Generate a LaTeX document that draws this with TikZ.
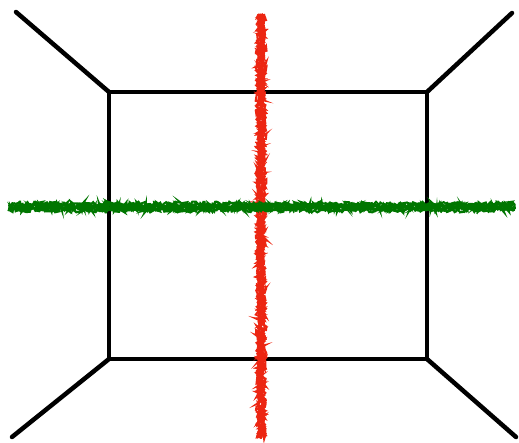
\documentclass[tikz,border=0pt]{standalone}
\usetikzlibrary{decorations.pathmorphing}
\definecolor{crayonred}{RGB}{236,38,18}
\definecolor{crayongreen}{RGB}{0,118,0}
\tikzset{
  edge/.style={line width=4.5pt,line cap=round},
  crayon/.style={line width=2pt,decorate,
    decoration={random steps,segment length=1.5pt,amplitude=2.4pt}}
}
\begin{document}
\begin{tikzpicture}[x=1pt,y=-1pt]
  \useasboundingbox (0,0) rectangle (519,442);
  % square and the four corner lines
  \coordinate (tl) at (109,92);
  \coordinate (tr) at (427,92);
  \coordinate (br) at (427,359);
  \coordinate (bl) at (109,359);
  \coordinate (otl) at (16,12);
  \coordinate (otr) at (512,13);
  \coordinate (obl) at (12,437);
  \coordinate (obr) at (516,437);
  \draw[edge,line cap=butt] (tl) -- (tr) -- (br) -- (bl) -- cycle;
  \draw[edge] (otl) -- (tl);
  \draw[edge] (otr) -- (tr);
  \draw[edge] (obl) -- (bl);
  \draw[edge] (obr) -- (br);
  % crayon strokes
  \coordinate (rtop) at (261,14);
  \coordinate (rbot) at (261,438);
  \coordinate (gl) at (9,207);
  \coordinate (gr) at (515,207);
  \pgfmathsetseed{7}
  \foreach \d in {-3,-2,-1,0,1,2,3} {
    \draw[crayon,crayonred] ([xshift=\d pt]rtop) -- ([xshift=\d pt]rbot);
  }
  \foreach \d in {-3,-2,-1,0,1,2,3} {
    \draw[crayon,crayongreen] ([yshift=\d pt]gl) -- ([yshift=\d pt]gr);
  }
\end{tikzpicture}
\end{document}
